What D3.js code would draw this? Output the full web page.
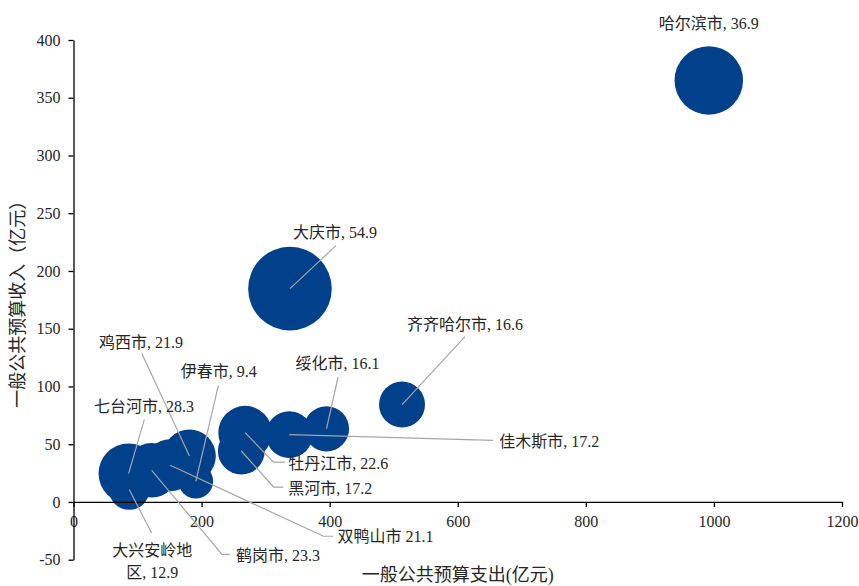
<!DOCTYPE html>
<html>
<head>
<meta charset="utf-8">
<script src="https://cdn.jsdelivr.net/npm/d3@7/dist/d3.min.js"></script>
<style>
  html, body { margin: 0; padding: 0; background: #fff; }
  svg { display: block; }
  text { font-family: "Liberation Serif", "Noto Sans CJK SC", serif; }
</style>
</head>
<body>
<svg id="chart" width="859" height="586"></svg>
<script>
// 黑龙江省各地市：一般公共预算支出、收入（亿元）及气泡数值
const cities = ["哈尔滨市", "大庆市", "齐齐哈尔市", "绥化市", "佳木斯市", "牡丹江市", "黑河市",
                "鸡西市", "伊春市", "七台河市", "大兴安岭地区", "鹤岗市", "双鸭山市"];
const expenditure = [992, 338, 513, 395, 337, 268, 262, 181, 191, 86, 87, 122, 151];
const revenue = [365, 184.7, 84.3, 63.3, 58.3, 60, 44.1, 39.8, 17.9, 24.6, 10.7, 27.4, 31.8];
const bubbleValue = [36.9, 54.9, 16.6, 16.1, 17.2, 22.6, 17.2, 21.9, 9.4, 28.3, 12.9, 23.3, 21.1];

const xTicks = [0, 200, 400, 600, 800, 1000, 1200];
const yTicks = [-50, 0, 50, 100, 150, 200, 250, 300, 350, 400];

const xTitle = "一般公共预算支出(亿元)";
const yTitle = "一般公共预算收入（亿元）";

// 数据标签文字（大兴安岭地区分两行）
const labelLines = [
  ["哈尔滨市, 36.9"], ["大庆市, 54.9"], ["齐齐哈尔市, 16.6"], ["绥化市, 16.1"],
  ["佳木斯市, 17.2"], ["牡丹江市, 22.6"], ["黑河市, 17.2"], ["鸡西市, 21.9"],
  ["伊春市, 9.4"], ["七台河市, 28.3"], ["大兴安岭地", "区, 12.9"], ["鹤岗市, 23.3"],
  ["双鸭山市 21.1"]
];

// 标签摆放：相对气泡中心的偏移（像素），引导线折点
const labelLayout = [
  { dx: 0, dy: -57, anchor: "middle", line: null },
  { dx: 45, dy: -56, anchor: "middle", line: [[46, -43]] },
  { dx: 63, dy: -80, anchor: "middle", line: [[63, -68]] },
  { dx: 11, dy: -65, anchor: "middle", line: [[11.6, -51.6]] },
  { dx: 210, dy: 6.4, anchor: "start", line: [[204, 5.7]] },
  { dx: 43, dy: 31, anchor: "start", line: [[28.3, 29.4], [40, 29.4]] },
  { dx: 47, dy: 37.6, anchor: "start", line: [[32.3, 36], [42, 36]] },
  { dx: -48.5, dy: -113, anchor: "middle", line: [[-47.6, -102.4]] },
  { dx: 23, dy: -109.3, anchor: "middle", line: [[22.6, -96]] },
  { dx: 15.4, dy: -67.3, anchor: "middle", line: [[15.7, -54]] },
  { dx: 23, dy: 61.4, anchor: "middle", line: [[22.4, 43.4]] },
  { dx: 84.3, dy: 85, anchor: "start", line: [[70.3, 84], [78.3, 84]] },
  { dx: 167.3, dy: 71.7, anchor: "start", line: [[153.3, 71], [163, 71]] }
];

const svg = d3.select("#chart");

const x = d3.scaleLinear().domain([0, 1200]).range([73.5, 842]);
const y = d3.scaleLinear().domain([-50, 400]).range([559.7, 40]);
const r = d3.scaleSqrt().domain([0, 54.9]).range([0, 41.8]);

const data = cities.map((c, i) => ({
  name: c, ex: expenditure[i], rev: revenue[i], v: bubbleValue[i],
  lines: labelLines[i], lay: labelLayout[i]
}));

// 气泡
svg.append("g").selectAll("circle")
  .data(data)
  .join("circle")
  .attr("cx", d => x(d.ex))
  .attr("cy", d => y(d.rev))
  .attr("r", d => r(d.v))
  .attr("fill", "#01408a");

// 坐标轴（负号用普通连字符）
const plain = d => String(d);
const xAxis = svg.append("g")
  .attr("transform", `translate(0,${y(0)})`)
  .call(d3.axisBottom(x).tickValues(xTicks).tickSize(5).tickSizeOuter(0).tickPadding(9).tickFormat(plain));
const yAxis = svg.append("g")
  .attr("transform", `translate(${x(0)},0)`)
  .call(d3.axisLeft(y).tickValues(yTicks).tickSize(5).tickSizeOuter(0).tickPadding(8).tickFormat(plain));

[xAxis, yAxis].forEach(a => {
  a.select(".domain").attr("stroke", "#000").attr("stroke-width", 1.3);
  a.selectAll(".tick line").attr("stroke", "#000").attr("stroke-width", 1.3);
  a.selectAll(".tick text")
    .attr("fill", "#262626")
    .style("font-size", "16px")
    .style("font-family", "'Liberation Serif', serif");
});

// 引导线
const lineGen = d3.line();
svg.append("g").selectAll("path")
  .data(data.filter(d => d.lay.line))
  .join("path")
  .attr("d", d => {
    const cx = x(d.ex), cy = y(d.rev);
    const pts = [[cx, cy]].concat(d.lay.line.map(p => [cx + p[0], cy + p[1]]));
    return lineGen(pts);
  })
  .attr("fill", "none")
  .attr("stroke", "#a6a6a6")
  .attr("stroke-width", 1.2);

// 数据标签
const labels = svg.append("g").selectAll("text")
  .data(data)
  .join("text")
  .attr("text-anchor", d => d.lay.anchor)
  .attr("fill", "#262626")
  .style("font-size", "16px");

labels.each(function(d) {
  const cx = x(d.ex), cy = y(d.rev);
  const t = d3.select(this);
  d.lines.forEach((s, k) => {
    t.append("tspan")
      .attr("x", cx + d.lay.dx)
      .attr("y", cy + d.lay.dy + k * 22 + 5.5)
      .text(s);
  });
});

// 轴标题
svg.append("text")
  .attr("x", (x(0) + x(1200)) / 2)
  .attr("y", 581)
  .attr("text-anchor", "middle")
  .attr("fill", "#262626")
  .style("font-size", "18px")
  .text(xTitle);

svg.append("text")
  .attr("transform", `translate(24,${(y(-50) + y(400)) / 2}) rotate(-90)`)
  .attr("text-anchor", "middle")
  .attr("fill", "#262626")
  .style("font-size", "18px")
  .text(yTitle);
</script>
</body>
</html>
